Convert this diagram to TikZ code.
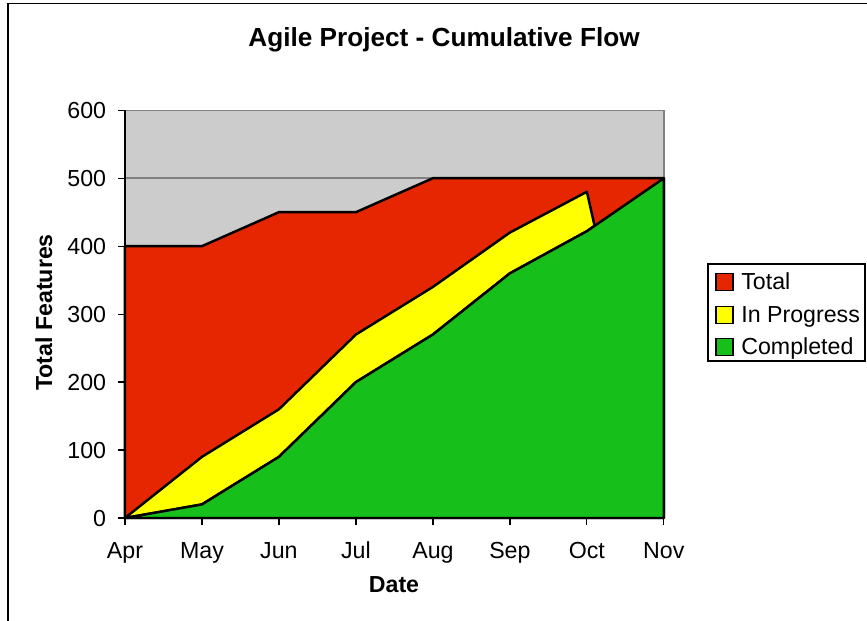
\documentclass[tikz,border=0pt]{standalone}
\usepackage{fontspec}
\setmainfont{Liberation Sans}
\usetikzlibrary{positioning}
\definecolor{totalred}{RGB}{230,38,0}
\definecolor{progyellow}{RGB}{255,255,0}
\definecolor{donegreen}{RGB}{22,191,26}
\definecolor{plotgray}{RGB}{204,204,204}
\definecolor{gridgray}{RGB}{128,128,128}

\begin{document}
\begin{tikzpicture}[x=0.02cm,y=0.02cm,
    every node/.append style={font=\fontsize{13.2}{15}\selectfont, inner sep=0pt},
    area/.style={draw=black, line width=1.4pt, line join=round},
    keybox/.style={draw=black, line width=0.6pt, minimum size=0.34cm}]
  \useasboundingbox (0,0) rectangle (867,621);
  \draw[line width=0.6pt] (8,0) -- (8,617.5) -- (867,617.5);
  \node[font=\fontsize{14.9}{17}\selectfont\bfseries, anchor=base] (title) at (444,574)
    {Agile Project - Cumulative Flow};
  \begin{scope}[shift={(2.5cm,2.06cm)}, x=1.54cm, y=0.0136cm]
    \fill[plotgray] (0,0) rectangle (7,600);
    \foreach \v in {100,200,...,500}
      \draw[gridgray, line width=0.8pt] (0,\v) -- (7,\v);
    \draw[gridgray, line width=0.8pt] (0,600) -- (7,600) -- (7,0);
    % stacked areas
    \draw[area, fill=totalred] (0,0) -- (0,400) -- (1,400) -- (2,450) -- (3,450)
      -- (4,500) -- (7,500) -- (7,0) -- cycle;
    \draw[area, fill=progyellow] (0,0) -- (1,90) -- (2,160) -- (3,270) -- (4,340)
      -- (5,420) -- (6,480) -- (6.1,430) -- (6,422) -- (5,360) -- (4,270) -- (3,200)
      -- (2,90) -- (1,20) -- cycle;
    \draw[area, fill=donegreen] (0,0) -- (1,20) -- (2,90) -- (3,200) -- (4,270)
      -- (5,360) -- (6,422) -- (7,500) -- (7,0) -- cycle;
    % axes
    \draw[line width=0.7pt] (0,600) -- (0,0) -- (7,0);
    \foreach \v in {0,100,...,600} {
      \draw[line width=0.7pt] (0,\v) -- ++(-0.14cm,0);
      \node[anchor=base east, xshift=-0.37cm, yshift=-0.17cm] (ylab\v) at (0,\v) {\v};
    }
    \foreach \m [count=\i from 0] in {Apr,May,Jun,Jul,Aug,Sep,Oct,Nov} {
      \draw[line width=0.7pt] (\i,0) -- ++(0,-0.14cm);
      \node[anchor=base, yshift=-0.8cm] (mon\i) at (\i,0) {\m};
    }
  \end{scope}
  \node[font=\fontsize{13.2}{15}\selectfont\bfseries, anchor=base] (xtitle) at (394,28) {Date};
  \node[font=\fontsize{13.2}{15}\selectfont\bfseries, anchor=base, rotate=90] (ytitle)
    at (52,308.5) {Total Features};
  % legend
  \draw[line width=0.6pt] (708,260) rectangle (865,357);
  \foreach \name/\col/\y in {Total/totalred/339, In Progress/progyellow/306,
      Completed/donegreen/274} {
    \node[keybox, fill=\col] (key-\col) at (724.5,\y) {};
    \node[anchor=base west] (lab-\col) at (741,\y-7.5) {\name};
  }
\end{tikzpicture}
\end{document}
